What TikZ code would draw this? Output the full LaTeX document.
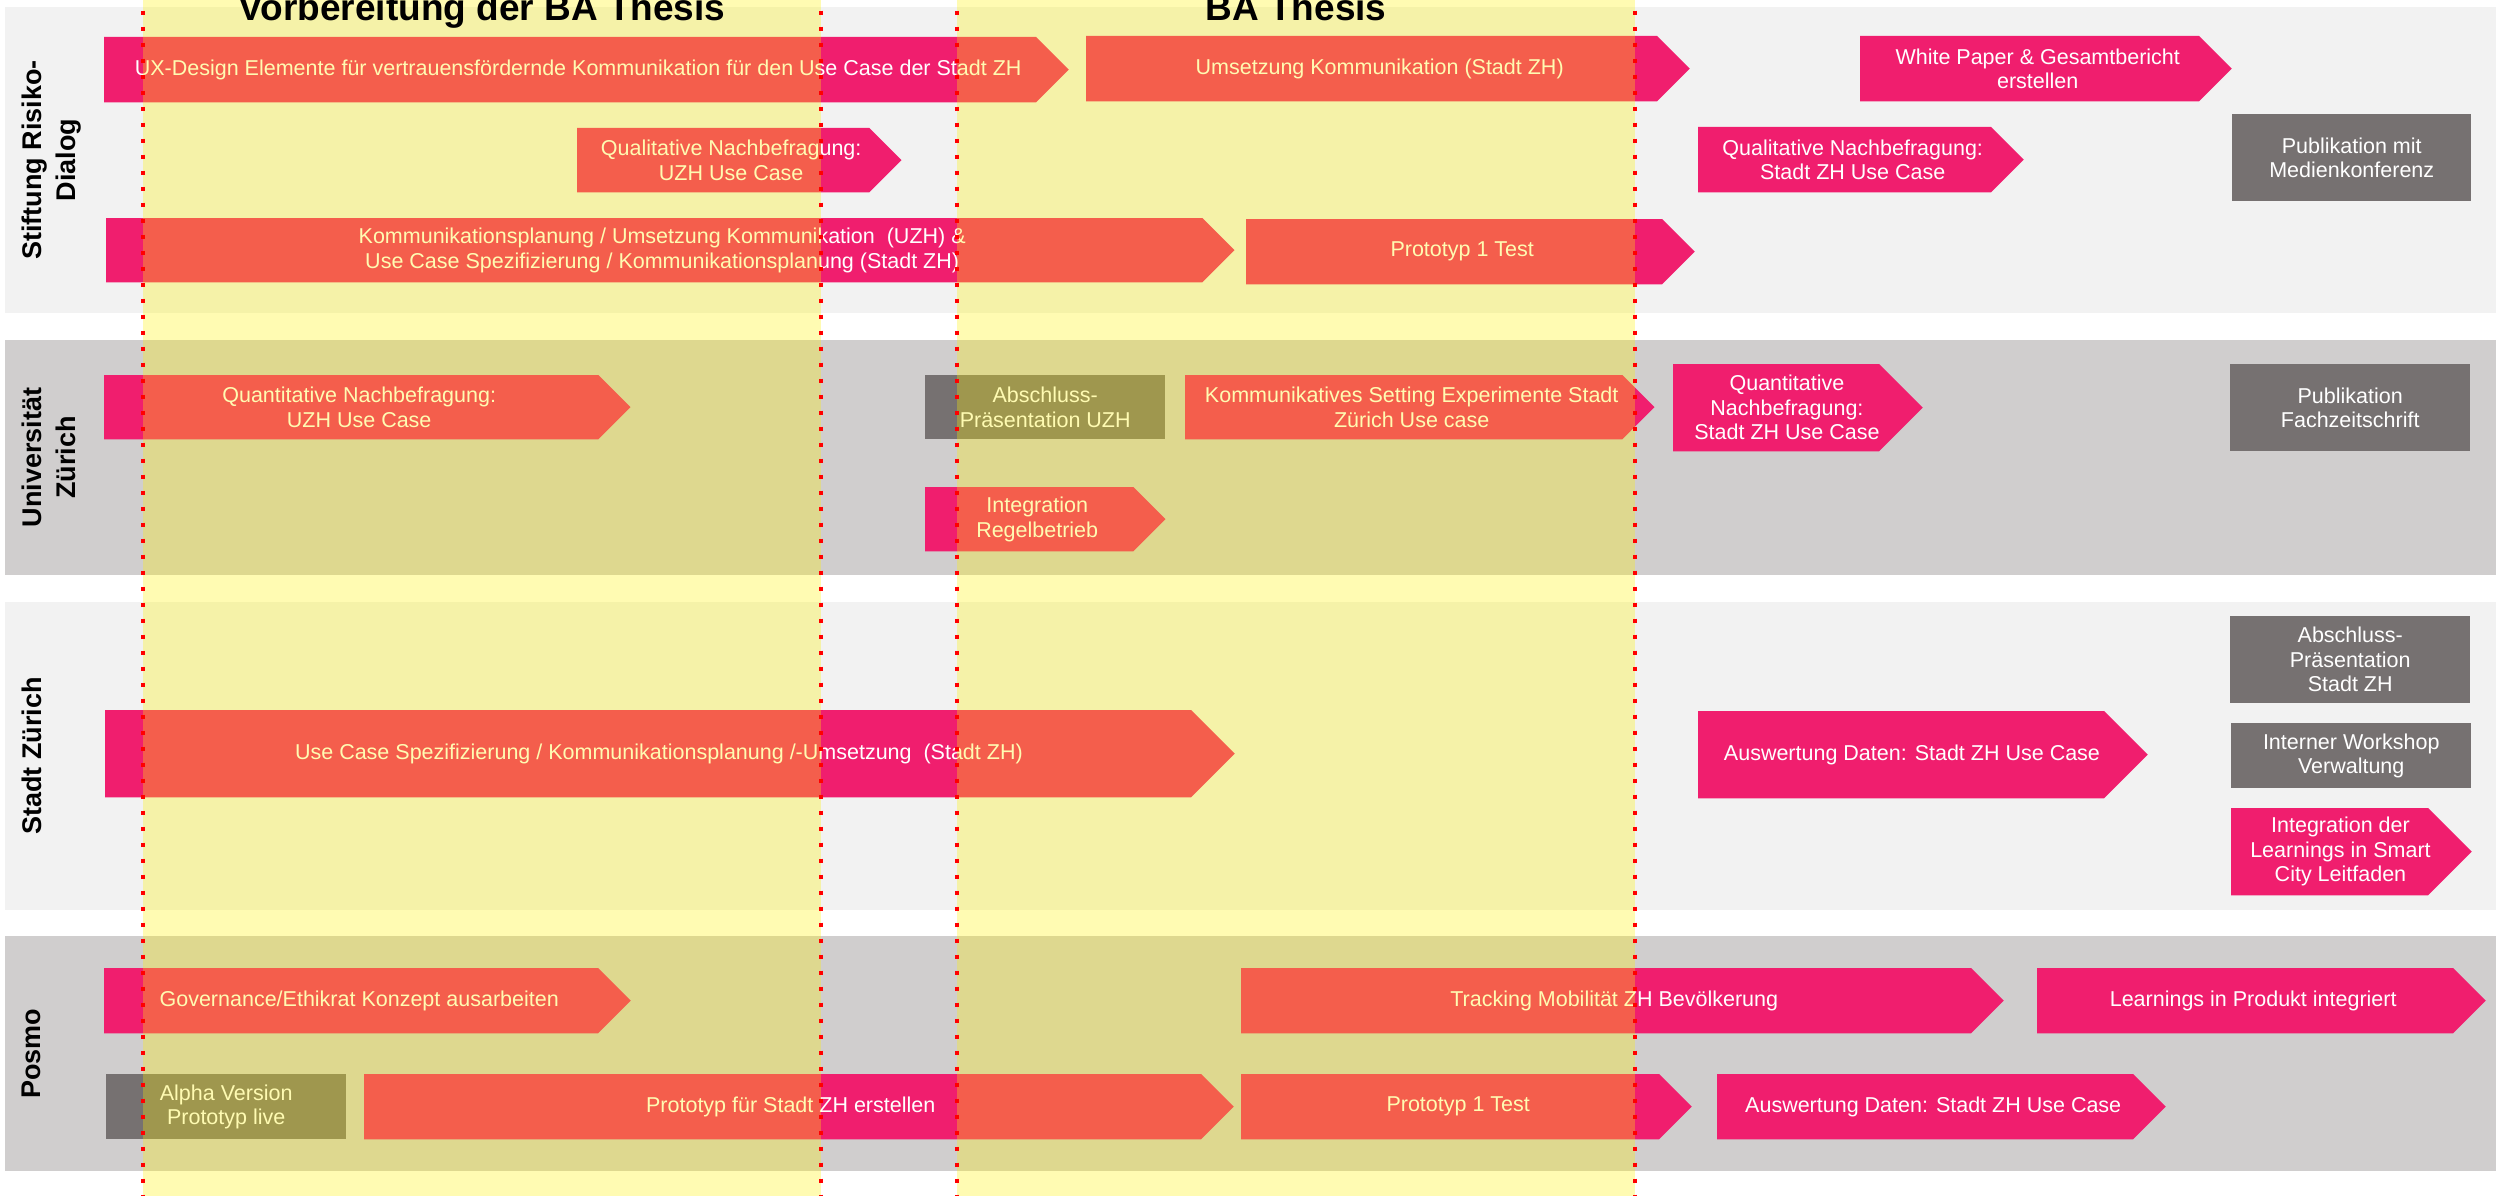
\documentclass[tikz,border=0pt]{standalone}
\usepackage{fontspec}
\setmainfont{Liberation Sans}
\usetikzlibrary{calc}

\definecolor{pinkc}{RGB}{240,30,110}
\definecolor{grayc}{RGB}{118,113,113}
\definecolor{lanelight}{RGB}{242,242,242}
\definecolor{lanedark}{RGB}{208,206,206}

\pgfdeclarelayer{back}
\pgfsetlayers{back,main}

\tikzset{
  task/.style={anchor=north west, inner sep=2pt, align=center, text=white,
    font=\fontsize{21.5}{24.5}\selectfont},
  greytask/.style={task, fill=grayc},
  lane/.style={rotate=90, anchor=north, inner sep=0pt, align=center,
    font=\bfseries\fontsize{27}{33.5}\selectfont},
  heading/.style={anchor=base, inner sep=0pt, font=\bfseries\fontsize{37}{40}\selectfont},
  band/.style={fill=yellow, fill opacity=0.3},
  reddot/.style={red, line width=4pt, dash pattern=on 4pt off 12pt, dash phase=5.3pt}
}

\begin{document}
\begin{tikzpicture}[x=1pt, y=-1pt]
\useasboundingbox (0,0) rectangle (2496,1196);

% lanes
\begin{pgfonlayer}{back}
\fill[lanelight] (5,7) rectangle (2496,313);
\fill[lanedark] (5,340) rectangle (2496,575);
\fill[lanelight] (5,602) rectangle (2496,910);
\fill[lanedark] (5,936) rectangle (2496,1171);
\end{pgfonlayer}

\node[lane] (lRisk) at (22,160) {Stiftung Risiko-\\Dialog};
\node[lane] (lUZH) at (22,457.5) {Universität\\Zürich};
\node[lane] (lStadt) at (22,756) {Stadt Zürich};
\node[lane] (lPosmo) at (22,1053.5) {Posmo};

% Stiftung Risiko-Dialog
\node[task, minimum width=948, minimum height=65] (ux) at (104,37) {UX-Design Elemente für vertrauensfördernde Kommunikation für den Use Case der Stadt ZH};
\node[task, minimum width=587, minimum height=65] (umsKom) at (1086,36) {Umsetzung Kommunikation (Stadt ZH)};
\node[task, minimum width=355, minimum height=65] (whitePaper) at (1860,36) {White Paper \& Gesamtbericht\\erstellen};
\node[task, minimum width=308, minimum height=64] (qualUZH) at (577,128) {Qualitative Nachbefragung:\\UZH Use Case};
\node[task, minimum width=309, minimum height=65] (qualZH) at (1698,127) {Qualitative Nachbefragung:\\Stadt ZH Use Case};
\node[greytask, minimum width=239, minimum height=87] (pubMedien) at (2232,114) {Publikation mit\\Medienkonferenz};
\node[task, minimum width=1112, minimum height=64] (komPlan) at (106,218) {Kommunikationsplanung / Umsetzung Kommunikation\ \ (UZH) \&\\Use Case Spezifizierung / Kommunikationsplanung (Stadt ZH)};
\node[task, minimum width=432, minimum height=65] (protoA) at (1246,219) {Prototyp 1 Test};

% Universitaet Zuerich
\node[task, minimum width=510, minimum height=64] (quantUZH) at (104,375) {Quantitative Nachbefragung:\\UZH Use Case};
\node[greytask, minimum width=240, minimum height=64] (abschlussUZH) at (925,375) {Abschluss-\\Präsentation UZH};
\node[task, minimum width=453, minimum height=64] (setting) at (1185,375) {Kommunikatives Setting Experimente Stadt\\Zürich Use case};
\node[task, minimum width=227.5, minimum height=87] (quantZH) at (1673,364) {Quantitative\\Nachbefragung:\\Stadt ZH Use Case};
\node[greytask, minimum width=240, minimum height=87] (pubFach) at (2230,364) {Publikation\\Fachzeitschrift};
\node[task, minimum width=224, minimum height=64] (regel) at (925,487) {Integration\\Regelbetrieb};

% Stadt Zuerich
\node[task, minimum width=1107.5, minimum height=87] (useCase) at (105,710) {Use Case Spezifizierung / Kommunikationsplanung /-Umsetzung\ \ (Stadt ZH)};
\node[task, minimum width=427.5, minimum height=87] (auswZH) at (1698,711) {Auswertung Daten: Stadt ZH Use Case};
\node[greytask, minimum width=240, minimum height=87] (abschlussZH) at (2230,616) {Abschluss-\\Präsentation\\Stadt ZH};
\node[greytask, minimum width=240, minimum height=65] (workshop) at (2231,723) {Interner Workshop\\Verwaltung};
\node[task, minimum width=218.5, minimum height=87] (leitfaden) at (2231,808) {Integration der\\Learnings in Smart\\City Leitfaden};

% Posmo
\node[task, minimum width=510, minimum height=65] (governance) at (104,968) {Governance/Ethikrat Konzept ausarbeiten};
\node[task, minimum width=746, minimum height=65] (tracking) at (1241,968) {Tracking Mobilität ZH Bevölkerung};
\node[task, minimum width=432, minimum height=65] (learnings) at (2037,968) {Learnings in Produkt integriert};
\node[greytask, minimum width=240, minimum height=65] (alpha) at (106,1074) {Alpha Version\\Prototyp live};
\node[task, minimum width=853, minimum height=65] (protoZH) at (364,1074) {Prototyp für Stadt ZH erstellen};
\node[task, minimum width=434, minimum height=65] (protoB) at (1241,1074) {Prototyp 1 Test};
\node[task, minimum width=432, minimum height=65] (auswPosmo) at (1717,1074) {Auswertung Daten: Stadt ZH Use Case};

% arrow shapes behind the task texts
\begin{pgfonlayer}{back}
\foreach \tk in {ux,umsKom,whitePaper,qualUZH,qualZH,komPlan,protoA,quantUZH,setting,quantZH,regel,useCase,auswZH,leitfaden,governance,tracking,learnings,protoZH,protoB,auswPosmo}
  \fill[pinkc] let \p1=(\tk.north), \p2=(\tk.south), \n1={(\y1-\y2)/4} in
    (\tk.north west) -- ($(\tk.north east)+(-\n1,0)$) -- ($(\tk.east)+(\n1,0)$)
    -- ($(\tk.south east)+(-\n1,0)$) -- (\tk.south west) -- cycle;
\end{pgfonlayer}

% thesis phases
\fill[band] (143.3,0) rectangle (820.5,1196);
\fill[band] (957,0) rectangle (1635,1196);
\foreach \x in {143.3,820.5,957,1635}
  \draw[reddot] (\x,0) -- (\x,1196);

\node[heading] (hPrep) at (482,20.5) {Vorbereitung der BA Thesis};
\node[heading] (hThesis) at (1296,20.5) {BA Thesis};

\end{tikzpicture}
\end{document}
